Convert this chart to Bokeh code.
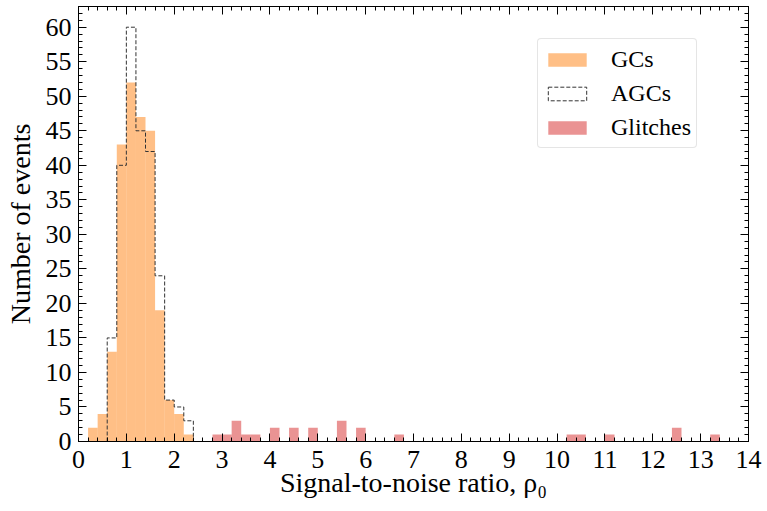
import numpy as np
from bokeh.plotting import figure
from bokeh.models import (Range1d, LinearAxis, SingleIntervalTicker, CustomJSTickFormatter,
                          Legend, LegendItem)
from bokeh.embed import file_html
from bokeh.resources import INLINE

# ---- data (histogram bins of width 0.2) ----
bin_width = 0.2
gc_left = [0.2, 0.4, 0.6, 0.8, 1.0, 1.2, 1.4, 1.6, 1.8, 2.0, 2.2]
gc_counts = [2, 4, 13, 43, 52, 47, 45, 19, 6, 4, 1]
agc_left = [0.6, 0.8, 1.0, 1.2, 1.4, 1.6, 1.8, 2.0, 2.2]
agc_counts = [15, 40, 60, 45, 42, 24, 6, 5, 3]
glitch_left = [2.8, 3.0, 3.2, 3.4, 3.6, 4.0, 4.4, 4.8, 5.4, 5.8, 6.6, 10.2, 10.4, 11.0, 12.4, 13.2]
glitch_counts = [1, 1, 3, 1, 1, 2, 2, 2, 3, 2, 1, 1, 1, 1, 2, 1]
labels = ["GCs", "AGCs", "Glitches"]

FONT = "Liberation Serif"

p = figure(width=767, height=511, output_backend="svg", toolbar_location=None,
           x_range=Range1d(0, 14), y_range=Range1d(0, 63),
           min_border_left=78, min_border_right=19, min_border_top=6, min_border_bottom=70)
p.grid.visible = False
p.outline_line_color = "black"
p.outline_line_width = 1
p.background_fill_color = "white"
p.border_fill_color = "white"

# GCs
gl = np.array(gc_left)
r_gc = p.quad(left=gl, right=gl + bin_width, bottom=0, top=gc_counts,
              fill_color="#ff7f0e", fill_alpha=0.5, line_color=None)

# AGCs step outline (unfilled)
edges = np.append(np.array(agc_left), agc_left[-1] + bin_width)
sx = np.repeat(edges, 2)
sy = np.concatenate([[0], np.repeat(agc_counts, 2), [0]])
r_agc = p.patch(sx, sy, fill_color=None, line_color="#333333", line_width=1, line_dash="4 2")

# Glitches
gll = np.array(glitch_left)
r_gl = p.quad(left=gll, right=gll + bin_width, bottom=0, top=glitch_counts,
              fill_color="#d62728", fill_alpha=0.5, line_color=None)

# axes
def style_axis(ax, interval, labels_on=True):
    ax.ticker = SingleIntervalTicker(interval=interval, num_minor_ticks=5)
    ax.major_tick_in = 8
    ax.major_tick_out = 0
    ax.minor_tick_in = 4
    ax.minor_tick_out = 0
    ax.axis_line_color = "black"
    ax.major_tick_line_color = "black"
    ax.minor_tick_line_color = "black"
    ax.major_label_text_font = FONT
    ax.major_label_text_font_size = "26px"
    ax.major_label_text_color = "black"
    ax.axis_label_text_font = FONT
    ax.axis_label_text_font_size = "28px"
    ax.axis_label_text_font_style = "normal"
    ax.axis_label_text_color = "black"
    if not labels_on:
        ax.formatter = CustomJSTickFormatter(code="return ''")
        ax.major_label_text_font_size = "1px"
        ax.major_label_standoff = 0

xa = p.xaxis[0]
style_axis(xa, 1)
xa.axis_label = "Signal-to-noise ratio, ρ₀"
xa.major_label_standoff = 9
xa.axis_label_standoff = -4

ya = p.yaxis[0]
style_axis(ya, 5)
ya.axis_label = "Number of events"
ya.major_label_standoff = 7
ya.axis_label_standoff = 7

top = LinearAxis()
style_axis(top, 1, labels_on=False)
p.add_layout(top, "above")
right = LinearAxis()
style_axis(right, 5, labels_on=False)
p.add_layout(right, "right")

legend = Legend(items=[LegendItem(label=labels[0], renderers=[r_gc]),
                       LegendItem(label=labels[1], renderers=[r_agc]),
                       LegendItem(label=labels[2], renderers=[r_gl])],
                location=(459, 293))
legend.label_text_font = FONT
legend.label_text_font_size = "24px"
legend.label_text_color = "black"
legend.glyph_width = 48
legend.glyph_height = 17
legend.label_standoff = 20
legend.label_height = 30
legend.padding = 5
legend.spacing = 4
legend.margin = 0
legend.border_line_color = "#cccccc"
legend.border_line_width = 1
legend.background_fill_alpha = 0.8
try:
    legend.border_radius = 4
except Exception:
    pass
p.add_layout(legend)

open("out.html", "w").write(file_html(p, INLINE))
